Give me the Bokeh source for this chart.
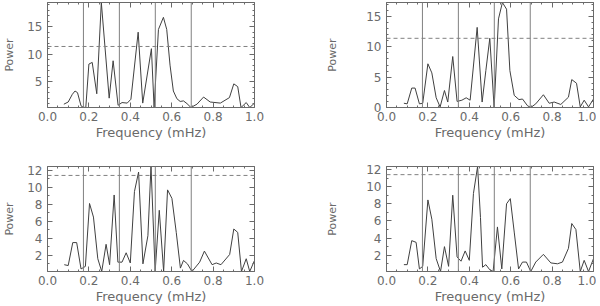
from bokeh.plotting import figure
from bokeh.layouts import row, column
from bokeh.models import (Range1d, Span, LinearAxis, SingleIntervalTicker,
                          NumeralTickFormatter, CustomLabelingPolicy)
from bokeh.embed import file_html
from bokeh.resources import INLINE

# ---- data ----
f1 = [0.079, 0.100, 0.120, 0.133, 0.145, 0.162, 0.172, 0.185, 0.200, 0.216, 0.238, 0.260,
      0.298, 0.317, 0.341, 0.360, 0.385, 0.403, 0.438, 0.460, 0.502, 0.515, 0.536, 0.560,
      0.576, 0.592, 0.608, 0.625, 0.641, 0.657, 0.674, 0.693, 0.722, 0.754, 0.786, 0.835,
      0.879, 0.900, 0.919, 0.935, 0.960, 0.977, 1.000]
p1 = [0.9, 1.3, 2.7, 3.3, 3.0, 0.6, 0.35, 0.3, 8.2, 8.5, 2.8, 19.4,
      2.0, 8.8, 0.7, 1.2, 1.1, 1.8, 14.0, 1.1, 11.0, 0.3, 14.5, 16.7,
      14.5, 8.0, 3.3, 1.9, 1.4, 1.5, 1.0, 0.3, 0.9, 2.2, 1.3, 1.1,
      2.1, 4.6, 4.1, 0.3, 1.2, 0.3, 1.1]

f2 = [0.084, 0.100, 0.122, 0.138, 0.159, 0.175, 0.200, 0.219, 0.240, 0.259, 0.280, 0.296,
      0.320, 0.341, 0.364, 0.385, 0.404, 0.438, 0.462, 0.480, 0.499, 0.520, 0.541, 0.560,
      0.580, 0.596, 0.617, 0.640, 0.657, 0.681, 0.697, 0.721, 0.758, 0.786, 0.810, 0.842,
      0.879, 0.895, 0.918, 0.936, 0.955, 0.976, 1.000]
p2 = [0.7, 0.6, 3.2, 3.2, 0.6, 0.7, 7.2, 5.7, 1.6, 0.1, 2.8, 0.9,
      8.4, 1.0, 1.2, 1.6, 1.2, 13.2, 0.9, 6.1, 11.4, 0.0, 14.6, 17.3,
      16.2, 6.1, 2.0, 1.3, 1.4, 0.3, 0.0, 0.6, 2.1, 0.7, 0.9, 0.5,
      1.7, 4.6, 4.0, 0.1, 1.2, 0.1, 1.4]

f3 = [0.081, 0.100, 0.122, 0.141, 0.162, 0.183, 0.203, 0.222, 0.243, 0.262, 0.283, 0.300,
      0.322, 0.340, 0.360, 0.380, 0.400, 0.420, 0.440, 0.461, 0.485, 0.500, 0.520, 0.540,
      0.561, 0.580, 0.601, 0.622, 0.642, 0.657, 0.676, 0.698, 0.735, 0.758, 0.795, 0.815,
      0.838, 0.880, 0.900, 0.919, 0.937, 0.960, 0.977, 1.000]
p3 = [0.9, 0.8, 3.5, 3.5, 0.4, 0.7, 8.1, 6.5, 1.6, 0.1, 3.3, 0.9,
      9.1, 1.2, 1.2, 2.3, 1.1, 9.5, 11.8, 1.0, 4.3, 12.5, 0.1, 7.3,
      0.1, 9.7, 8.7, 4.7, 0.5, 1.4, 1.0, 0.1, 1.2, 2.5, 0.9, 1.1,
      0.9, 2.1, 5.1, 4.7, 0.1, 1.6, 0.1, 1.4]

f4 = [0.084, 0.100, 0.122, 0.143, 0.159, 0.175, 0.200, 0.219, 0.240, 0.261, 0.280, 0.300,
      0.320, 0.341, 0.360, 0.380, 0.400, 0.420, 0.440, 0.454, 0.464, 0.480, 0.499, 0.515,
      0.536, 0.557, 0.580, 0.598, 0.617, 0.638, 0.657, 0.676, 0.697, 0.721, 0.758, 0.794,
      0.826, 0.850, 0.879, 0.895, 0.915, 0.936, 0.955, 0.976, 1.000]
p4 = [0.9, 0.9, 3.7, 3.5, 0.4, 0.7, 8.45, 6.2, 1.6, 0.1, 3.0, 0.7,
      9.0, 1.8, 1.3, 2.5, 1.4, 9.2, 12.35, 6.4, 0.6, 0.9, 0.3, 0.1,
      5.3, 0.4, 8.0, 8.6, 4.7, 0.4, 1.2, 1.2, 0.1, 1.2, 2.1, 1.1,
      1.0, 1.2, 2.8, 5.7, 5.0, 0.1, 1.4, 0.1, 1.6]

y_min = [0.3, 0.0, 0.1, 0.1]
y_max = [19.4, 17.3, 12.45, 12.35]
y_tick_step = [5, 5, 2, 2]

harmonics = [0.1736, 0.3472, 0.5208, 0.6944]   # mHz
threshold = 11.4

x_label = "Frequency (mHz)"
y_label = "Power"

FONT = "DejaVu Sans"
TXT = "#6a6a6a"
AX = "#6a6a6a"


def panel(freq, power, ymin, ymax, ystep, bl, br, bt, bb, ystand, fh):
    p = figure(frame_width=207, frame_height=fh, output_backend="svg", toolbar_location=None,
               x_range=Range1d(0, 1.0), y_range=Range1d(ymin, ymax),
               min_border_left=bl, min_border_right=br, min_border_top=bt, min_border_bottom=bb,
               x_axis_location=None, y_axis_location=None)
    p.grid.visible = False
    p.outline_line_color = None
    p.background_fill_color = "white"
    p.border_fill_color = "white"

    def style(ax, labels):
        ax.axis_line_color = AX
        ax.major_tick_line_color = AX
        ax.minor_tick_line_color = AX
        ax.major_tick_in = 5
        ax.major_tick_out = 0
        ax.minor_tick_in = 2
        ax.minor_tick_out = 0
        ax.major_label_text_font = FONT
        ax.major_label_text_color = TXT
        ax.axis_label_text_font = FONT
        ax.axis_label_text_color = TXT
        ax.axis_label_text_font_style = "normal"
        if not labels:
            ax.major_label_policy = CustomLabelingPolicy(code="return new Set()")
            ax.major_label_text_font_size = "0px"
            ax.major_label_standoff = 0
            ax.axis_label_standoff = 0

    xt = SingleIntervalTicker(interval=0.2, num_minor_ticks=4)
    yt = SingleIntervalTicker(interval=ystep, num_minor_ticks=5 if ystep == 5 else 2)

    xb = LinearAxis(ticker=xt, formatter=NumeralTickFormatter(format="0.0"), axis_label=x_label)
    style(xb, True)
    xb.major_label_text_font_size = "12px"
    xb.major_label_standoff = 4
    xb.axis_label_text_font_size = "13px"
    xb.axis_label_standoff = 1
    p.add_layout(xb, "below")

    xa = LinearAxis(ticker=xt)
    style(xa, False)
    p.add_layout(xa, "above")

    yl = LinearAxis(ticker=yt, axis_label=y_label)
    style(yl, True)
    yl.major_label_text_font_size = "12px"
    yl.major_label_standoff = 5
    yl.axis_label_text_font_size = "11px"
    yl.axis_label_standoff = ystand
    p.add_layout(yl, "left")

    yr = LinearAxis(ticker=yt)
    style(yr, False)
    p.add_layout(yr, "right")

    for h in harmonics:
        p.add_layout(Span(location=h, dimension="height", line_color="#808080", line_width=1))
    p.add_layout(Span(location=threshold, dimension="width", line_color="#808080",
                      line_width=1, line_dash="4 3"))

    p.line(freq, power, line_color="#404040", line_width=1)
    return p


pa = panel(f1, p1, y_min[0], y_max[0], y_tick_step[0], 46, 40, 2, 32, 8, 105)
pb = panel(f2, p2, y_min[1], y_max[1], y_tick_step[1], 92, 3, 2, 32, 24, 105)
pc = panel(f3, p3, y_min[2], y_max[2], y_tick_step[2], 46, 40, 24, 32, 8, 105)
pd = panel(f4, p4, y_min[3], y_max[3], y_tick_step[3], 92, 3, 24, 32, 24, 105)

layout = column(row(pa, pb), row(pc, pd))

open("out.html", "w").write(file_html(layout, INLINE))
